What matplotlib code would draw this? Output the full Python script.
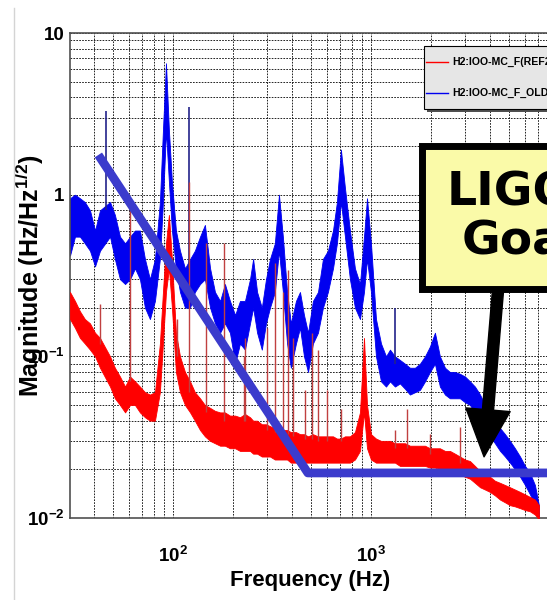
import numpy as np
import matplotlib
matplotlib.use("Agg")
import matplotlib.pyplot as plt
from matplotlib.patches import Rectangle
from matplotlib.lines import Line2D
from matplotlib.ticker import FixedLocator, FixedFormatter, LogLocator, NullFormatter

plt.rcParams["font.family"] = ["Liberation Sans", "DejaVu Sans"]
plt.rcParams["font.weight"] = "bold"
plt.rcParams["axes.labelweight"] = "bold"
plt.rcParams["mathtext.fontset"] = "custom"
plt.rcParams["mathtext.rm"] = "Liberation Sans:bold"
plt.rcParams["mathtext.it"] = "Liberation Sans:bold"
plt.rcParams["mathtext.bf"] = "Liberation Sans:bold"
plt.rcParams["mathtext.default"] = "rm"

# spectra: band of the noisy trace (low / high edge)
freq = [30.2, 32.0, 33.9, 35.9, 38.1, 40.4, 42.8, 48.1, 50.9, 54.0, 57.3, 60.7, 64.3, 68.1,
        72.2, 76.5, 81.1, 85.9, 89.0, 92.2, 95.4, 98.8, 103.5, 108.5, 115, 122, 129, 137,
        145, 154, 163, 173, 183, 194, 206, 218, 231, 245, 254, 266, 281, 295, 309, 327,
        343, 359, 377, 394, 418, 438, 459, 481, 509, 540, 572, 606, 643, 673, 705, 739,
        783, 830, 880, 922, 955, 1000, 1060, 1124, 1191, 1247, 1322, 1400, 1485, 1573,
        1668, 1767, 1874, 1985, 2104, 2229, 2365, 2504, 2655, 2813, 2985, 3162, 3350,
        3555, 3767, 3990, 4227, 4486, 4753, 5035, 5335, 5662, 5998, 6353, 6730, 7047]

blue_lo = [0.42, 0.55, 0.55, 0.5, 0.45, 0.36, 0.45, 0.55, 0.4, 0.3, 0.28, 0.3, 0.35, 0.3,
           0.2, 0.17, 0.22, 0.4, 0.9, 2.5, 1.2, 0.6, 0.35, 0.25, 0.2, 0.2, 0.25, 0.28,
           0.3, 0.2, 0.16, 0.14, 0.16, 0.14, 0.09, 0.12, 0.11, 0.16, 0.2, 0.14, 0.11, 0.16, 0.2, 0.25,
           0.45, 0.25, 0.12, 0.085, 0.12, 0.15, 0.1, 0.08, 0.12, 0.14, 0.2, 0.25, 0.35, 0.5, 0.9, 0.55,
           0.3, 0.2, 0.17, 0.25, 0.4, 0.25, 0.1, 0.07, 0.065, 0.07, 0.065, 0.068, 0.063, 0.058,
           0.06, 0.062, 0.07, 0.08, 0.09, 0.065, 0.058, 0.055, 0.055, 0.055, 0.052, 0.05, 0.045,
           0.04, 0.036, 0.032, 0.029, 0.026, 0.024, 0.022, 0.02, 0.018, 0.016, 0.014, 0.012, 0.0098]
blue_hi = [0.95, 1.0, 0.95, 0.9, 0.8, 0.6, 0.8, 0.9, 0.75, 0.55, 0.5, 0.55, 0.6, 0.6,
           0.4, 0.3, 0.4, 0.9, 2.5, 6.5, 2.5, 1.2, 0.6, 0.45, 0.35, 0.4, 0.45, 0.55,
           0.65, 0.35, 0.25, 0.22, 0.28, 0.22, 0.18, 0.22, 0.22, 0.3, 0.4, 0.25, 0.2, 0.3, 0.4, 0.5,
           1.0, 0.55, 0.25, 0.16, 0.22, 0.25, 0.18, 0.14, 0.22, 0.25, 0.4, 0.45, 0.6, 0.9, 1.9, 1.1,
           0.6, 0.35, 0.28, 0.55, 0.95, 0.5, 0.17, 0.12, 0.1, 0.11, 0.1, 0.095, 0.09, 0.085,
           0.085, 0.09, 0.1, 0.115, 0.14, 0.1, 0.085, 0.08, 0.08, 0.078, 0.075, 0.07, 0.065,
           0.058, 0.05, 0.045, 0.04, 0.036, 0.033, 0.03, 0.027, 0.024, 0.021, 0.019, 0.016, 0.012]

red_lo = [0.17, 0.15, 0.13, 0.12, 0.11, 0.1, 0.085, 0.065, 0.055, 0.05, 0.045, 0.05, 0.05, 0.045,
          0.042, 0.04, 0.04, 0.06, 0.12, 0.25, 0.35, 0.2, 0.08, 0.06, 0.05, 0.045, 0.04, 0.035,
          0.032, 0.03, 0.029, 0.028, 0.028, 0.027, 0.027, 0.026, 0.026, 0.026, 0.025, 0.025, 0.024, 0.024, 0.024, 0.023,
          0.023, 0.023, 0.023, 0.022, 0.022, 0.022, 0.022, 0.022, 0.022, 0.022, 0.022, 0.022, 0.022, 0.022, 0.022, 0.022,
          0.022, 0.023, 0.026, 0.045, 0.027, 0.023, 0.022, 0.022, 0.022, 0.022, 0.022, 0.021, 0.021, 0.021,
          0.021, 0.021, 0.021, 0.0205, 0.0205, 0.02, 0.02, 0.0195, 0.019, 0.0185, 0.018, 0.0175, 0.0165,
          0.0155, 0.015, 0.0145, 0.0138, 0.013, 0.0125, 0.012, 0.0118, 0.0115, 0.0112, 0.011, 0.0105, 0.0098]
red_hi = [0.25, 0.22, 0.19, 0.17, 0.16, 0.14, 0.13, 0.1, 0.085, 0.075, 0.065, 0.075, 0.07, 0.065,
          0.06, 0.058, 0.06, 0.12, 0.25, 0.5, 0.75, 0.4, 0.14, 0.1, 0.08, 0.07, 0.06, 0.055,
          0.05, 0.048, 0.046, 0.045, 0.045, 0.043, 0.043, 0.042, 0.044, 0.042, 0.04, 0.04, 0.038, 0.038, 0.037, 0.036,
          0.036, 0.035, 0.035, 0.034, 0.034, 0.033, 0.033, 0.032, 0.033, 0.032, 0.032, 0.032, 0.032, 0.031, 0.031, 0.032,
          0.032, 0.034, 0.045, 0.13, 0.05, 0.033, 0.031, 0.03, 0.03, 0.03, 0.029, 0.029, 0.029, 0.028,
          0.028, 0.028, 0.028, 0.027, 0.027, 0.027, 0.026, 0.026, 0.025, 0.024, 0.023, 0.0225, 0.021,
          0.0195, 0.019, 0.018, 0.017, 0.0165, 0.016, 0.0155, 0.015, 0.0145, 0.014, 0.0135, 0.013, 0.012]

# narrow lines sticking out of the noise
red_spike_f = [43, 60.5, 105, 120, 147, 181, 228, 232, 298, 327, 359, 380, 405, 465, 505, 540,
               600, 705, 1320, 1520, 1985, 2810]
red_spike_base = [0.12, 0.07, 0.1, 0.06, 0.045, 0.04, 0.04, 0.04, 0.035, 0.034, 0.033, 0.033, 0.032,
                  0.031, 0.031, 0.03, 0.03, 0.03, 0.027, 0.027, 0.025, 0.022]
red_spike_top = [0.21, 0.84, 0.17, 1.2, 0.5, 0.5, 0.1, 0.13, 0.15, 0.38, 0.25, 0.34, 0.13,
                 0.062, 0.14, 0.11, 0.062, 0.047, 0.035, 0.047, 0.033, 0.0365]
blue_spike_f = [45.9, 120, 1320]
blue_spike_base = [0.8, 0.35, 0.09]
blue_spike_top = [3.3, 3.5, 0.2]

goal_f = [42, 480, 10000]
goal_y = [1.76, 0.019, 0.019]

W, H = 547, 600


def fx(px):
    return px / W


def fy(py):
    return 1 - py / H


fig = plt.figure(figsize=(W / 100, H / 100), dpi=100)
fig.add_artist(Line2D([fx(14), fx(14)], [fy(600), fy(8)], color="#d4d4d4", lw=1))

ax = fig.add_axes([fx(70), fy(518), fx(547) - fx(70), fy(33) - fy(518)])
ax.set_xscale("log")
ax.set_yscale("log")
ax.set_xlim(30.2, 7745)
ax.set_ylim(0.01, 10)

ax.fill_between(freq, blue_lo, blue_hi, color="#0000f0", lw=0.6, zorder=2)
ax.vlines(blue_spike_f, blue_spike_base, blue_spike_top, color="#22228a", lw=1.2, zorder=2)
ax.fill_between(freq, red_lo, red_hi, color="#ff0000", lw=0.6, zorder=3)
ax.vlines(red_spike_f, red_spike_base, red_spike_top, color="#c04040", lw=1.0, zorder=3)
ax.plot(goal_f, goal_y, color="#3b3bcc", lw=6.3, solid_capstyle="butt", zorder=5)

# axes, ticks and grid
ax.xaxis.set_major_locator(FixedLocator([100, 1000]))
ax.xaxis.set_major_formatter(FixedFormatter([r"$10^{2}$", r"$10^{3}$"]))
ax.yaxis.set_major_locator(FixedLocator([0.01, 0.1, 1, 10]))
ax.yaxis.set_major_formatter(FixedFormatter([r"$10^{-2}$", r"$10^{-1}$", "1", "10"]))
for a in (ax.xaxis, ax.yaxis):
    a.set_minor_locator(LogLocator(base=10, subs=np.arange(2, 10), numticks=50))
    a.set_minor_formatter(NullFormatter())
ax.tick_params(which="both", length=0, labelsize=13.5)
ax.tick_params(axis="x", pad=20)
ax.tick_params(axis="y", pad=4)
ax.set_axisbelow(True)
ax.grid(True, which="both", color="black", linestyle=(0, (2, 1.5)), linewidth=0.6)
ax.spines["right"].set_visible(False)
for s in ("left", "bottom", "top"):
    ax.spines[s].set_color("#505050")
    ax.spines[s].set_linewidth(1.2)

ax.set_xlabel("Frequency (Hz)", fontsize=16)
ax.xaxis.set_label_coords(0.503, -0.108)
ax.set_ylabel(r"Magnitude (Hz/Hz$^{1/2}$)", fontsize=18)
ax.yaxis.set_label_coords(-0.05, 0.5)

# "LIGO Goal" callout
ax.add_patch(Rectangle((0.737, 0.473), 1.0, 0.295, transform=ax.transAxes, clip_on=False,
                       facecolor="#fafaa8", edgecolor="black", lw=5, zorder=6))
ax.text(fx(447 - 70) / fx(477), (518 - 205) / 485, "LIGO", transform=ax.transAxes,
        ha="left", va="baseline", fontsize=34, family="DejaVu Sans", fontweight="bold",
        clip_on=False, zorder=7)
ax.text(fx(462 - 70) / fx(477), (518 - 253) / 485, "Goal", transform=ax.transAxes,
        ha="left", va="baseline", fontsize=34, family="DejaVu Sans", fontweight="bold",
        clip_on=False, zorder=7)
ax.annotate("", xy=(3725, 0.0239), xytext=(4374, 0.25), zorder=7,
            arrowprops=dict(arrowstyle="simple,head_length=3.4,head_width=3.2,tail_width=0.8",
                            mutation_scale=10, fc="black", ec="black", shrinkA=0, shrinkB=0))

# legend box (cut by the right edge of the picture)
fig.add_artist(Rectangle((fx(427), fy(112)), fx(160), fy(46) - fy(109), transform=fig.transFigure,
                         facecolor="#505050", edgecolor="none", zorder=8))
fig.add_artist(Rectangle((fx(424), fy(109)), fx(160), fy(46) - fy(109), transform=fig.transFigure,
                         facecolor="#e6e6e6", edgecolor="black", lw=0.8, zorder=9))
for row_y, col, lab in [(62, "#ff0000", "H2:IOO-MC_F(REF2)"), (93, "#0000f0", "H2:IOO-MC_F_OLD")]:
    fig.add_artist(Line2D([fx(426), fx(448)], [fy(row_y), fy(row_y)], color=col, lw=1, zorder=10))
    fig.text(fx(452), fy(row_y), lab, fontsize=7.6, va="center", ha="left", zorder=10)

fig.savefig("out.png", dpi=100)
